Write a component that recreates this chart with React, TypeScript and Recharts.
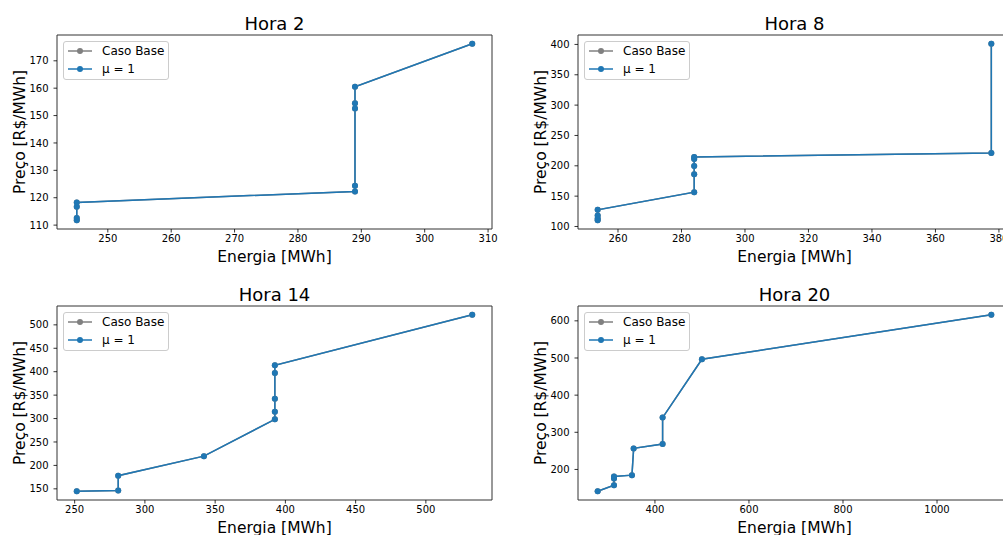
import React from 'react'
import { LineChart, Line, XAxis, YAxis, Legend, ReferenceArea } from 'recharts'

const BLUE = '#1f77b4'
const GRAY = '#808080'
const FONT = '"DejaVu Sans", sans-serif'

// Hora 2
const energia2 = [245.1, 245.1, 245.1, 245.1, 289.0, 289.0, 289.0, 289.0, 289.0, 307.5]
const preco2 = [111.8, 112.6, 116.7, 118.3, 122.3, 124.4, 152.6, 154.5, 160.5, 176.2]
const xTicks2 = [250, 260, 270, 280, 290, 300, 310]
const yTicks2 = [110, 120, 130, 140, 150, 160, 170]

// Hora 8
const energia8 = [253.6, 253.6, 253.6, 253.6, 284.0, 284.0, 284.0, 284.0, 284.0, 377.6, 377.6]
const preco8 = [110.4, 113.1, 118.0, 127.4, 156.5, 186.1, 199.8, 211.3, 214.6, 221.2, 401.0]
const xTicks8 = [260, 280, 300, 320, 340, 360, 380]
const yTicks8 = [100, 150, 200, 250, 300, 350, 400]

// Hora 14
const energia14 = [251.5, 281.0, 281.0, 342.0, 392.5, 392.5, 392.5, 392.5, 392.5, 533.0]
const preco14 = [145.0, 146.5, 178.0, 219.8, 298.3, 314.7, 342.5, 397.4, 413.8, 521.4]
const xTicks14 = [250, 300, 350, 400, 450, 500]
const yTicks14 = [150, 200, 250, 300, 350, 400, 450, 500]

// Hora 20
const energia20 = [278.2, 312.9, 312.9, 312.9, 351.1, 354.7, 416.3, 416.3, 499.9, 1115.5]
const preco20 = [141.5, 157.7, 175.8, 181.2, 184.7, 256.7, 268.3, 339.5, 496.7, 616.2]
const xTicks20 = [400, 600, 800, 1000]
const yTicks20 = [200, 300, 400, 500, 600]

const series = [
  { name: 'Caso Base', color: GRAY },
  { name: 'μ = 1', color: BLUE },
]

// matplotlib-style 5% margins
function pad(values: number[]): [number, number] {
  const min = Math.min(...values)
  const max = Math.max(...values)
  const m = (max - min) * 0.05
  return [min - m, max + m]
}

function LegendBox(props: { payload?: Array<{ value: string; color: string }> }) {
  const { payload = [] } = props
  return (
    <div
      style={{
        border: '1px solid #cccccc',
        borderRadius: 3,
        background: 'rgba(255,255,255,0.8)',
        padding: '0 4px 1px 4px',
        fontFamily: FONT,
        fontSize: 12,
        lineHeight: '18px',
        color: '#000',
        whiteSpace: 'nowrap',
      }}
    >
      {payload.map((entry, i) => (
        <div key={`leg-${i}`} style={{ display: 'flex', alignItems: 'center', height: 18 }}>
          <svg width={24} height={18} style={{ display: 'block' }}>
            <line x1={0} y1={9} x2={24} y2={9} stroke={entry.color} strokeWidth={1.5} />
            <circle cx={12} cy={9} r={3} fill={entry.color} />
          </svg>
          <span style={{ marginLeft: 10 }}>{entry.value}</span>
        </div>
      ))}
    </div>
  )
}

type PanelProps = {
  title: string
  energia: number[]
  preco: number[]
  xTicks: number[]
  yTicks: number[]
  left: number
  top: number
  width: number
  height: number
}

function Panel({ title, energia, preco, xTicks, yTicks, left, top, width, height }: PanelProps) {
  const data = energia.map((x, i) => ({ energia: x, preco: preco[i] }))
  const xd = pad(energia)
  const yd = pad(preco)
  const tick = { fontSize: 10, fill: '#000', fontFamily: FONT }
  return (
    <>
      <div style={{ position: 'absolute', left: left - 60, top: top - 10 }}>
        <LineChart
          width={width + 70}
          height={height + 50}
          data={data}
          margin={{ top: 10, right: 10, left: 0, bottom: 0 }}
        >
          <XAxis
            type="number"
            dataKey="energia"
            domain={xd}
            ticks={xTicks}
            interval={0}
            allowDataOverflow
            axisLine={false}
            tickLine={{ stroke: '#000', strokeWidth: 0.8 }}
            tickSize={3.5}
            tickMargin={2.5}
            tick={tick}
            height={40}
          />
          <YAxis
            type="number"
            domain={yd}
            ticks={yTicks}
            interval={0}
            allowDataOverflow
            axisLine={false}
            tickLine={{ stroke: '#000', strokeWidth: 0.8 }}
            tickSize={3.5}
            tickMargin={5}
            tick={tick}
            width={60}
          />
          {series.map((s) => (
            <Line
              key={s.name}
              name={s.name}
              dataKey="preco"
              type="linear"
              stroke={s.color}
              strokeWidth={1.5}
              dot={{ r: 3, fill: s.color, stroke: s.color, strokeWidth: 0 }}
              activeDot={false}
              isAnimationActive={false}
            />
          ))}
          <ReferenceArea
            x1={xd[0]}
            x2={xd[1]}
            y1={yd[0]}
            y2={yd[1]}
            fill="none"
            stroke="#333"
            strokeWidth={1}
          />
          <Legend
            layout="vertical"
            align="center"
            verticalAlign="middle"
            content={<LegendBox />}
            wrapperStyle={{ left: 66, top: 16, width: 'auto', height: 'auto' }}
          />
        </LineChart>
      </div>
      <svg
        width={1003}
        height={535}
        style={{ position: 'absolute', left: 0, top: 0, pointerEvents: 'none', overflow: 'visible' }}
      >
        <text x={left + width / 2} y={top - 5} textAnchor="middle" fontSize={18} fontFamily={FONT} fill="#000">
          {title}
        </text>
        <text
          x={left + width / 2}
          y={top + height + 32.5}
          textAnchor="middle"
          fontSize={15.5}
          fontFamily={FONT}
          fill="#000"
        >
          Energia [MWh]
        </text>
        <text
          x={left - 32.5}
          y={top + height / 2}
          textAnchor="middle"
          fontSize={15.5}
          fontFamily={FONT}
          fill="#000"
          transform={`rotate(-90, ${left - 32.5}, ${top + height / 2})`}
        >
          Preço [R$/MWh]
        </text>
      </svg>
    </>
  )
}

export default function App() {
  return (
    <div style={{ position: 'relative', width: 1003, height: 535, overflow: 'hidden', background: '#fff' }}>
      <style>{`body { margin: 0; overflow: hidden; }`}</style>
      <Panel title="Hora 2" energia={energia2} preco={preco2} xTicks={xTicks2} yTicks={yTicks2} left={57} top={35} width={435} height={194} />
      <Panel title="Hora 8" energia={energia8} preco={preco8} xTicks={xTicks8} yTicks={yTicks8} left={578} top={35} width={433} height={194} />
      <Panel title="Hora 14" energia={energia14} preco={preco14} xTicks={xTicks14} yTicks={yTicks14} left={57} top={306} width={435} height={194} />
      <Panel title="Hora 20" energia={energia20} preco={preco20} xTicks={xTicks20} yTicks={yTicks20} left={578} top={306} width={433} height={194} />
    </div>
  )
}
